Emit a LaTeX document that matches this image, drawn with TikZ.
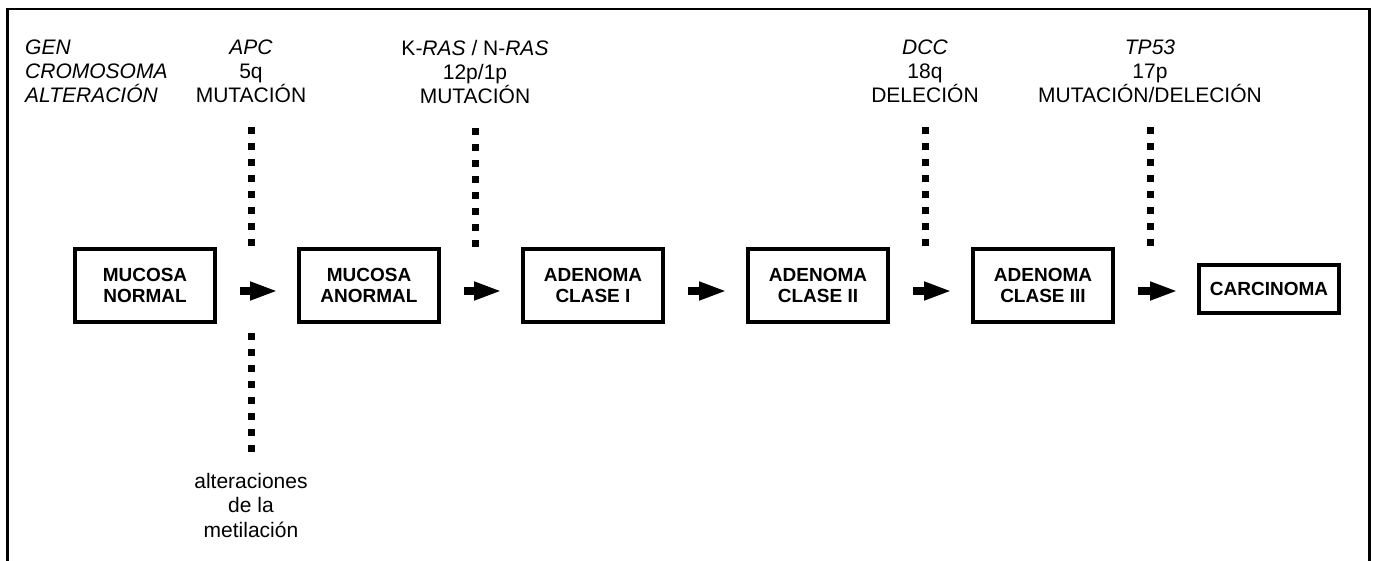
\documentclass[tikz,border=0pt]{standalone}
\usepackage{fontspec}
\setmainfont{Liberation Sans}
\usetikzlibrary{arrows.meta,calc}
\begin{document}
\begin{tikzpicture}[x=1pt,y=-1pt,
  stage/.style={draw, line width=4pt, minimum width=140pt, minimum height=73pt,
    align=center, inner sep=0pt, font=\fontsize{19}{21.5}\selectfont\bfseries},
  gene/.style={align=center, anchor=north, inner sep=0pt,
    font=\fontsize{21}{24}\selectfont},
  note/.style={align=center, anchor=north, inner sep=0pt,
    font=\fontsize{21}{24.5}\selectfont},
  dotline/.style={line width=7pt, dash pattern=on 7pt off 9pt},
  flow/.style={line width=8pt, -{Triangle[length=28pt,width=17pt]}},
  frameline/.style={line width=2.3pt}]
\useasboundingbox (0,0) rectangle (1374,560);
\draw[frameline] (7.5,575) -- (7.5,9) -- (1369.5,9) -- (1369.5,575);

% gene labels
\node[gene, anchor=north west, align=left] (lab) at (25,40)
  {\itshape GEN\\\itshape CROMOSOMA\\\itshape ALTERACIÓN};
\node[gene] (apc) at (251,40) {\textit{APC}\\5q\\MUTACIÓN};
\node[gene] (ras) at (475,40) {K-\textit{RAS} / N-\textit{RAS}\\12p/1p\\MUTACIÓN};
\node[gene] (dcc) at (925,40) {\textit{DCC}\\18q\\DELECIÓN};
\node[gene] (tp) at (1150,40) {\textit{TP53}\\17p\\MUTACIÓN/DELECIÓN};

% stages
\node[stage] (n1) at (145,285.5) {MUCOSA\\NORMAL};
\node[stage] (n2) at (369,285.5) {MUCOSA\\ANORMAL};
\node[stage] (n3) at (593,285.5) {ADENOMA\\CLASE I};
\node[stage] (n4) at (818,285.5) {ADENOMA\\CLASE II};
\node[stage] (n5) at (1043,285.5) {ADENOMA\\CLASE III};
\node[stage, minimum width=140pt, minimum height=48pt] (n6) at (1269,289) {CARCINOMA};

% methylation note
\node[note] (met) at (251,473) {alteraciones\\de la\\metilación};

% dotted lines
\draw[dotline] ([yshift=-24pt]apc.south) -- ([yshift=-144pt]apc.south);
\draw[dotline] ([yshift=-24pt]ras.south) -- ([yshift=-144pt]ras.south);
\draw[dotline] ([yshift=-24pt]dcc.south) -- ([yshift=-144pt]dcc.south);
\draw[dotline] ([yshift=-24pt]tp.south) -- ([yshift=-144pt]tp.south);
\draw[dotline] ([yshift=140pt]met.north) -- ([yshift=20pt]met.north);

% arrows
\draw[flow] ($(n1.east)+(23,5.5)$) -- ($(n2.west)+(-19,5.5)$);
\draw[flow] ($(n2.east)+(23,5.5)$) -- ($(n3.west)+(-19,5.5)$);
\draw[flow] ($(n3.east)+(23,5.5)$) -- ($(n4.west)+(-19,5.5)$);
\draw[flow] ($(n4.east)+(23,5.5)$) -- ($(n5.west)+(-19,5.5)$);
\draw[flow] ($(n5.east)+(23,5.5)$) -- ($(n5.east -| n6.west)+(-19,5.5)$);
\end{tikzpicture}
\end{document}
